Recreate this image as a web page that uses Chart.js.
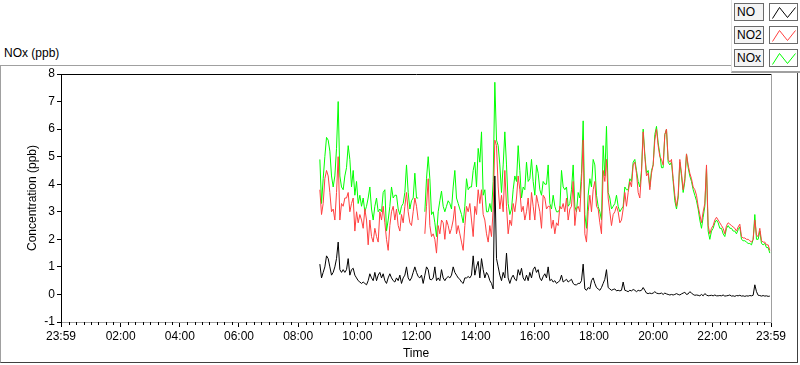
<!DOCTYPE html>
<html>
<head>
<meta charset="utf-8">
<title>NOx (ppb)</title>
<script src="https://cdn.jsdelivr.net/npm/chart.js@4.4.1/dist/chart.umd.min.js"></script>
<style>
    body { margin: 0; background: #fff; font-family: "Liberation Sans", Arial, sans-serif; }
    #wrap { position: relative; width: 800px; height: 365px; overflow: hidden; background: #fff; }
    #chart { position: absolute; left: 0; top: 0; }
    #graph-title { position: absolute; left: 4px; top: 46px; font-size: 12px; color: #000; }
    #frame { position: absolute; left: 0; top: 65px; width: 796px; height: 296px;
             border-left: 1px solid #a0a0a0; border-top: 1px solid #a0a0a0;
             border-right: 1px solid #404040; border-bottom: 1px solid #404040; }
    #legend { position: absolute; left: 731px; top: 0; width: 69px; height: 71px;
              border-left: 1px solid #e0e0e0; border-bottom: 2px solid #a0a0a0; background: #fff; }
    .legend-row { position: absolute; left: 2px; width: 66px; height: 18px; }
    .legend-label { position: absolute; left: 0; top: 0; width: 30px; height: 18px; box-sizing: border-box;
                    border: 1px solid #6a6a6a; background: #f4f4f4; font-size: 12px; line-height: 16px;
                    padding-left: 2px; color: #000; }
    .legend-icon { position: absolute; left: 35px; top: 0; width: 29px; height: 18px; box-sizing: border-box;
                   border: 1px solid #6a6a6a; background: #fff; }
</style>
</head>
<body>
<div id="wrap">
    <div id="frame"></div>
    <div id="graph-title">NOx (ppb)</div>
    <div id="legend"></div>
    <canvas id="chart" width="800" height="365"></canvas>
</div>
<script>
// Time axis: minutes of day, first tick is 23:59 of the previous day
const xTickTimes = ['23:59', '02:00', '04:00', '06:00', '08:00', '10:00', '12:00',
                    '14:00', '16:00', '18:00', '20:00', '22:00', '23:59'];
const yMin = -1;
const yMax = 8;

// Samples, first one at 08:44, then every ~3.4 min
const startTime = '08:44';
const sampleStepMin = 3.38;

const seriesNames = ['NO', 'NO2', 'NOx'];
const seriesColors = ['#000000', '#ff4040', '#00ff00'];

const noValues = [
    1.1, 0.6, 0.8, 1.0, 1.4, 1.3, 1.0, 0.7, 0.8, 1.0, 1.3, 1.9, 0.9, 0.8, 0.9, 0.8, 0.9, 1.3, 0.7, 0.9,
    0.95, 0.7, 0.6, 0.5, 0.45, 0.4, 0.45, 0.4, 0.35, 0.5, 0.75, 0.6, 0.5, 0.8, 0.5, 0.7, 0.8, 0.6, 0.75, 0.5,
    0.4, 0.6, 0.75, 0.6, 0.5, 0.45, 0.6, 0.5, 0.7, 0.4, 0.6, 0.7, 1.0, 0.6, 0.5, 0.6, 0.8, 1.0, 0.8, 0.65,
    0.6, 0.7, 0.4, 0.7, 1.0, 0.9, 0.55,
    0.53, 0.6, 1.0, 0.5, 0.6, 0.5, 0.9, 0.6, 0.5, 0.6, 0.65, 0.6, 0.7, 1.0, 0.8, 0.7, 0.6, 0.55, 0.45, 0.4,
    0.6, 0.6, 0.65, 0.6, 0.7, 1.4, 0.7, 1.0, 1.2, 0.6, 1.3, 0.9, 0.6, 0.8, 0.7, 0.5, 0.4, 0.2, 4.3, 1.3,
    1.0, 0.7, 0.5, 0.8, 0.6, 1.5, 0.6, 0.4, 0.6, 0.7, 0.55, 0.5, 0.9, 0.7, 0.95, 0.6, 0.5, 0.7, 0.5, 0.8,
    0.6, 0.9, 1.0, 0.8, 0.9, 0.6, 0.5, 0.65, 0.75,
    0.6, 1.0, 0.5, 0.55, 0.45, 0.5, 0.4, 0.45, 0.5, 0.7, 0.45, 0.5, 0.55, 0.45, 0.5, 0.55, 0.4, 0.35, 0.35, 0.4,
    0.4, 0.5, 1.1, 0.2, 0.15, 0.25, 0.2, 0.5, 0.6, 0.4, 0.25, 0.2, 0.15, 0.25, 0.4, 0.55, 0.9, 0.25, 0.2, 0.15,
    0.18, 0.2, 0.13, 0.15, 0.13, 0.15, 0.45, 0.15, 0.13, 0.1, 0.15, 0.13, 0.18, 0.15, 0.1, 0.15, 0.13, 0.15, 0.25, 0.15,
    0.05, 0.03, 0.05, 0.03, 0.05, 0.1, 0.05, 0.03, 0.03,
    0.05, 0.0, 0.05, 0.02, 0.0, -0.02, 0.0, -0.02, 0.0, 0.03, 0.0, -0.02, 0.02, 0.05, 0.08, 0.0, 0.02, 0.1, 0.05, 0.0,
    -0.03, -0.02, -0.03, -0.05, 0.0, -0.05, 0.03, -0.02, -0.05, -0.04, -0.03, -0.05, -0.02, -0.05, -0.05, -0.04, -0.05, -0.02, -0.06, -0.05,
    -0.04, -0.02, -0.06, -0.05, -0.07, -0.04, -0.05, -0.03, -0.06, -0.05, -0.07, -0.05, -0.06, -0.04, -0.05, -0.03, 0.35, 0.1, -0.03, -0.04,
    -0.06, -0.04, -0.06, -0.05, -0.07, -0.06
];

const no2Values = [
    3.8, 2.9, 3.3, 4.2, 4.5, 4.3, 3.7, 3.0, 3.1, 2.7, 3.7, 5.0, 2.7, 3.3, 3.2, 3.5, 3.5, 3.7, 3.0, 3.3,
    3.5, 2.3, 3.0, 2.6, 2.9, 2.7, 2.4, 3.1, 2.7, 1.8, 2.7, 2.1, 1.9, 2.4, 2.1, 1.9, 3.0, 2.7, 3.2, 2.6,
    2.0, 1.6, 2.5, 3.0, 3.2, 2.7, 3.1, 2.5, 2.3, 2.9, 2.6, 3.2, 3.7, 3.0, 2.6, 2.5, 3.0, 3.5, 3.2, 2.7,
    null, null, null, 2.2, 3.2, 4.2, 2.5,
    2.1, 2.2, 2.0, 1.5, 2.5, 2.2, 2.7, 2.6, 2.0, 2.7, 2.5, 2.2, 2.4, 2.7, 3.2, 2.2, 2.5, 2.2, 1.9, 1.6,
    2.5, 3.2, 3.0, 3.3, 2.7, 2.1, 3.2, 2.9, 3.8, 3.3, 3.8, 2.9, 2.7, 2.2, 1.9, 2.5, 2.1, 3.1, 5.6, 5.4,
    3.9, 3.1, 3.6, 3.0, 4.5, 3.2, 2.2, 2.7, 2.5, 3.3, 3.0, 3.5, 4.3, 3.8, 3.0, 3.2, 2.7, 3.0, 3.5, 2.7,
    3.7, 3.2, 2.7, 3.6, 3.3, 3.0, 2.4, 3.6, 3.5,
    3.1, 3.2, 3.2, 2.4, 2.7, 2.2, 2.6, 2.5, 3.2, 3.1, 3.3, 3.0, 3.5, 2.7, 3.1, 3.2, 4.1, 2.5, 3.1, 3.2,
    3.0, 4.1, 5.6, 2.2, 1.9, 3.0, 3.6, 3.0, 3.8, 4.1, 3.2, 3.1, 2.6, 2.2, 4.5, 4.1, 4.9, 3.5, 3.0, 2.5,
    2.9, 3.0, 3.2, 3.0, 2.6, 2.7, 3.1, 3.7, 3.2, 3.7, 4.1, 3.9, 4.7, 4.8, 4.4, 3.7, 3.5, 4.4, 5.9, 5.0,
    4.3, 4.4, 3.8, 4.4, 4.7, 5.6, 6.0, 5.4, 5.0,
    4.9, 4.7, 5.8, 6.0, 4.9, 4.8, 4.9, 4.2, 3.6, 3.2, 3.6, 4.9, 4.4, 3.8, 4.2, 5.1, 4.7, 4.4, 4.2, 3.9,
    3.8, 3.6, 3.2, 2.9, 2.6, 3.0, 3.3, 4.7, 2.5, 2.2, 2.4, 2.5, 2.7, 2.8, 2.7, 2.6, 2.5, 2.4, 2.2, 2.5,
    2.6, 2.55, 2.5, 2.45, 2.4, 2.3, 2.45, 2.55, 2.1, 2.05, 2.05, 2.0, 2.0, 1.95, 1.9, 2.0, 2.7, 2.15, 2.1, 2.4,
    1.95, 1.9, 1.9, 1.8, 1.8, 1.6
];

const noxValues = [
    4.9, 3.3, 4.2, 5.0, 5.7, 5.6, 5.2, 4.3, 3.9, 4.3, 5.3, 7.0, 4.3, 3.9, 3.8, 4.3, 4.6, 5.4, 4.9, 3.9,
    4.5, 3.6, 4.1, 3.3, 3.6, 3.2, 3.5, 3.0, 3.2, 3.5, 3.9, 3.1, 2.7, 3.2, 3.5, 3.0, 3.1, 3.0, 3.7, 3.8,
    2.3, 2.7, 3.2, 3.9, 3.5, 3.6, 3.6, 3.1, 2.9, 3.2, 3.3, 3.7, 4.7, 3.7, 3.1, 3.4, 3.5, 4.4, 3.5, 3.5,
    null, null, null, 3.0, 4.2, 5.0, 4.2,
    2.9, 3.0, 2.6, 2.1, 3.0, 3.4, 3.75, 3.2, 3.0, 3.2, 3.4, 3.3, 3.1, 3.9, 4.5, 3.5, 3.3, 3.1, 2.9, 2.6,
    3.2, 4.2, 3.8, 3.9, 3.9, 4.5, 4.8, 3.9, 5.3, 4.8, 5.9, 3.6, 3.8, 3.0, 3.0, 3.3, 3.0, 4.1, 7.7, 5.6,
    5.4, 4.7, 3.7, 4.7, 5.9, 4.7, 3.3, 2.9, 3.1, 3.8, 4.3, 4.1, 5.4, 4.5, 3.5, 3.9, 3.8, 4.8, 4.1, 4.2,
    4.9, 4.1, 3.6, 4.7, 4.4, 3.8, 3.6, 4.1, 4.0,
    4.0, 4.7, 3.3, 3.1, 3.6, 3.2, 3.0, 3.0, 3.1, 4.5, 3.9, 3.8, 3.9, 3.2, 3.3, 3.8, 4.7, 3.2, 3.0, 3.7,
    3.5, 4.4, 6.3, 2.9, 2.4, 3.6, 4.2, 3.9, 4.9, 4.7, 3.6, 3.2, 3.0, 2.7, 5.4, 4.3, 6.1, 3.7, 3.5, 3.1,
    3.2, 3.3, 3.6, 3.2, 3.0, 3.1, 3.2, 3.9, 3.8, 3.8, 4.2, 4.1, 4.8, 4.9, 4.5, 4.1, 3.9, 4.5, 6.0, 5.1,
    4.4, 4.5, 3.9, 4.5, 4.7, 5.8, 6.1, 5.5, 5.1,
    4.6, 4.6, 5.8, 6.0, 4.8, 4.7, 4.8, 4.1, 3.4, 3.1, 3.5, 4.8, 4.3, 3.7, 4.1, 5.1, 4.6, 4.3, 4.1, 3.8,
    3.6, 3.4, 3.1, 2.7, 2.4, 2.8, 3.2, 4.6, 2.3, 2.0, 2.3, 2.4, 2.6, 2.7, 2.6, 2.4, 2.4, 2.2, 2.1, 2.4,
    2.5, 2.4, 2.4, 2.3, 2.3, 2.2, 2.35, 2.45, 2.0, 1.95, 1.95, 1.9, 1.85, 1.85, 1.8, 2.0, 2.9, 2.0, 2.0, 2.3,
    1.85, 1.8, 1.85, 1.7, 1.7, 1.5
];

const FONT = { family: '"Liberation Sans", Arial, sans-serif', size: 12 };

// 'HH:MM' -> minutes of day
function toMinutes(label) {
    const [h, m] = label.split(':').map(Number);
    return h * 60 + m;
}

// Tick positions on the axis; the first 23:59 belongs to the day before
const xTickValues = xTickTimes.map((t, i) => {
    const m = toMinutes(t);
    return (i === 0 && m > 720) ? m - 1440 : m;
});
const xMin = xTickValues[0];
const xMax = xTickValues[xTickValues.length - 1];

function toPoints(values) {
    const t0 = toMinutes(startTime);
    return values.map((v, i) => ({ x: t0 + i * sampleStepMin, y: v }));
}

// Build the html legend from the datasets
function buildLegend(chart) {
    const legend = document.getElementById('legend');
    chart.data.datasets.forEach((ds, i) => {
        const row = document.createElement('div');
        row.className = 'legend-row';
        row.style.top = (3 + i * 23) + 'px';
        row.innerHTML = `
            <div class="legend-label">${ds.label}</div>
            <div class="legend-icon">
                <svg width="27" height="16" style="display:block">
                    <polyline points="2.5,14.5 9.5,3.5 17.5,13.5 25.5,3.5" fill="none"
                        stroke="${ds.borderColor}" stroke-width="1"/>
                </svg>
            </div>`;
        legend.appendChild(row);
    });
}

// Top and right edge of the plot area
const plotFrame = {
    id: 'plotFrame',
    afterDraw(chart) {
        const { ctx, chartArea } = chart;
        const l = Math.round(chartArea.left) + 0.5;
        const r = Math.round(chartArea.right) + 0.5;
        const t = Math.round(chartArea.top) + 0.5;
        const b = Math.round(chartArea.bottom) + 0.5;
        ctx.save();
        ctx.lineWidth = 1;
        ctx.strokeStyle = '#000';
        ctx.beginPath();
        ctx.moveTo(l, t);
        ctx.lineTo(r, t);
        ctx.stroke();
        ctx.strokeStyle = '#a0a0a0';
        ctx.beginPath();
        ctx.moveTo(r, t);
        ctx.lineTo(r, b);
        ctx.stroke();
        ctx.restore();
    }
};

// Small ticks every 15 minutes between the labelled ones
const minorTicks = {
    id: 'minorTicks',
    afterDraw(chart) {
        const { ctx, chartArea } = chart;
        const xScale = chart.scales.x;
        const b = Math.round(chartArea.bottom);
        ctx.save();
        ctx.strokeStyle = '#000';
        ctx.lineWidth = 1;
        ctx.beginPath();
        for (let m = 15; m < xMax; m += 15) {
            if (m % 120 === 0) continue;
            const x = Math.round(xScale.getPixelForValue(m)) + 0.5;
            ctx.moveTo(x, b);
            ctx.lineTo(x, b + 3);
        }
        ctx.stroke();
        ctx.restore();
    }
};

function makeDataset(i, values) {
    return {
        label: seriesNames[i],
        data: toPoints(values),
        borderColor: seriesColors[i],
        backgroundColor: seriesColors[i],
        borderWidth: 1,
        pointRadius: 0,
        tension: 0,
        spanGaps: false
    };
}

const chart = new Chart(document.getElementById('chart'), {
    type: 'line',
    data: {
        datasets: [
            makeDataset(0, noValues),
            makeDataset(1, no2Values),
            makeDataset(2, noxValues)
        ]
    },
    options: {
        responsive: false,
        animation: false,
        events: [],
        layout: { padding: { top: 74, right: 29, left: 0, bottom: 0 } },
        plugins: {
            legend: { display: false },
            tooltip: { enabled: false }
        },
        scales: {
            x: {
                type: 'linear',
                min: xMin,
                max: xMax,
                afterBuildTicks: scale => {
                    scale.ticks = xTickValues.map(v => ({ value: v }));
                },
                afterFit: scale => { scale.height = 43; },
                ticks: {
                    autoSkip: false,
                    maxRotation: 0,
                    padding: 2,
                    color: '#000',
                    font: FONT,
                    callback: (value, index) => xTickTimes[index]
                },
                grid: { drawOnChartArea: false, tickLength: 5, tickColor: '#000' },
                border: { color: '#a0a0a0' },
                title: { display: true, text: 'Time', color: '#000', font: FONT, padding: { top: 0, bottom: 4 } }
            },
            y: {
                min: yMin,
                max: yMax,
                afterFit: scale => { scale.width = 61; },
                ticks: { stepSize: 1, padding: 2, color: '#000', font: FONT },
                grid: { drawOnChartArea: false, tickLength: 4, tickColor: '#000' },
                border: { color: '#000' },
                title: {
                    display: true, text: 'Concentration (ppb)', color: '#000', font: FONT,
                    padding: { top: 25, bottom: 0 }
                }
            }
        }
    },
    plugins: [plotFrame, minorTicks]
});

buildLegend(chart);
</script>
</body>
</html>
